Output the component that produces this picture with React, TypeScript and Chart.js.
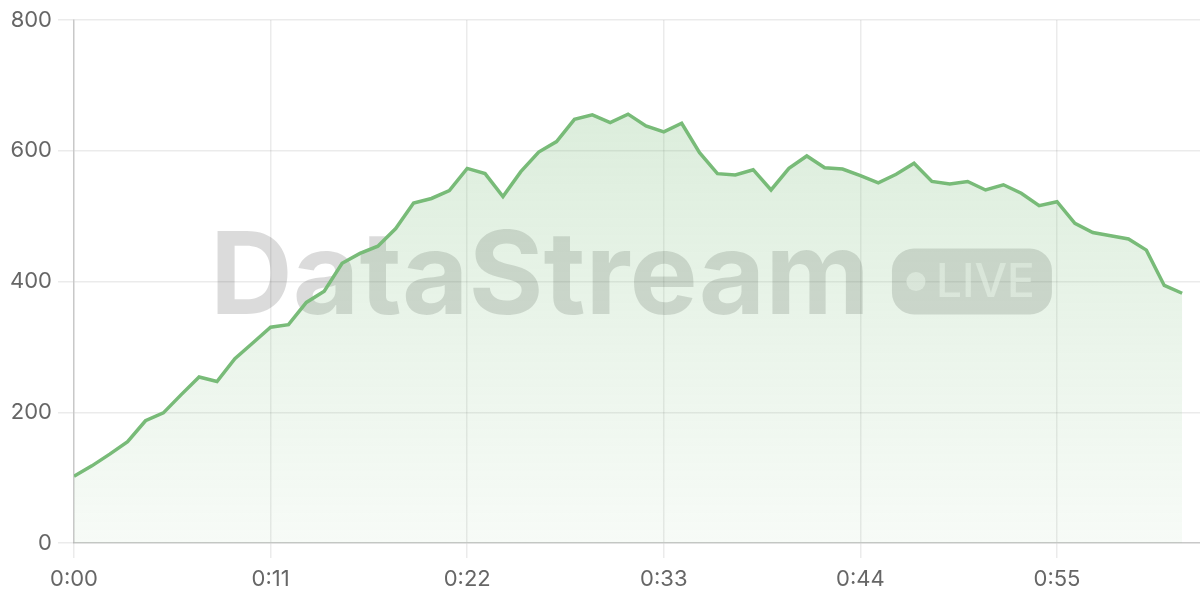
import React, { useEffect, useRef } from "react";
import { Chart, registerables } from "chart.js";

Chart.register(...registerables);

// seconds 0..62
const values: number[] = [
  102, 118, 136, 155, 187, 199, 227, 254, 247, 282, 306, 330, 334, 368, 385, 428,
  443, 454, 481, 520, 527, 539, 573, 565, 530, 568, 598, 614, 648, 655, 643, 656,
  638, 629, 642, 597, 565, 563, 571, 540, 573, 592, 574, 572, 562, 551, 564, 581,
  553, 549, 553, 540, 548, 535, 516, 522, 489, 475, 470, 465, 448, 394, 382,
];
const xTicks: number[] = [0, 11, 22, 33, 44, 55];
const xMax = 63;
const yTicks: number[] = [0, 200, 400, 600, 800];
const watermarkText = "DataStream";
const badgeText = "LIVE";

const fmt = (v: number) => `${Math.floor(v / 60)}:${String(v % 60).padStart(2, "0")}`;

const watermarkPlugin = {
  id: "watermark",
  beforeDatasetsDraw(chart: any) {
    const { ctx, chartArea } = chart;
    const cx = (chartArea.left + chartArea.right) / 2 - 6;
    const cy = (chartArea.top + chartArea.bottom) / 2;
    ctx.save();
    // main text
    ctx.font = "700 100px Inter";
    const w100 = ctx.measureText(watermarkText).width;
    const size = (660 / w100) * 100;
    ctx.font = `700 ${size}px Inter`;
    const tw = ctx.measureText(watermarkText).width;
    const pillW = 160;
    const pillH = 66;
    const gap = 22;
    const total = tw + gap + pillW;
    const x0 = cx - total / 2;
    ctx.fillStyle = "rgba(0,0,0,0.14)";
    ctx.textBaseline = "alphabetic";
    ctx.textAlign = "left";
    ctx.fillText(watermarkText, x0, cy + 32);
    // pill
    const px = x0 + tw + gap;
    const py = cy - pillH / 2;
    ctx.beginPath();
    ctx.roundRect(px, py, pillW, pillH, 22);
    ctx.fill();
    ctx.fillStyle = "rgba(255,255,255,0.55)";
    ctx.beginPath();
    ctx.arc(px + 24, cy, 9.5, 0, Math.PI * 2);
    ctx.fill();
    ctx.font = "500 46px Inter";
    ctx.textBaseline = "middle";
    ctx.fillText(badgeText, px + 44, cy + 2);
    ctx.restore();
  },
};

export default function App() {
  const ref = useRef<HTMLCanvasElement | null>(null);
  useEffect(() => {
    document.body.style.margin = "0";
    const canvas = ref.current!;
    const tickFont = { family: "Inter", size: 22 };
    const chart = new Chart(canvas, {
      type: "line",
      data: {
        datasets: [
          {
            data: values.map((v, i) => ({ x: i, y: v })),
            borderColor: "rgb(120,187,120)",
            borderWidth: 3.5,
            pointRadius: 0,
            tension: 0,
            fill: "origin",
            backgroundColor: (c: any) => {
              const { chart: ch } = c;
              const area = ch.chartArea;
              if (!area) return "rgba(120,187,120,0.15)";
              const g = ch.ctx.createLinearGradient(0, area.top, 0, area.bottom);
              g.addColorStop(0, "rgba(120,187,120,0.3)");
              g.addColorStop(1, "rgba(120,187,120,0.06)");
              return g;
            },
          },
        ],
      },
      options: {
        responsive: false,
        animation: false,
        layout: { padding: { top: 20, right: 0, left: 0, bottom: 0 } },
        plugins: { legend: { display: false }, tooltip: { enabled: false } },
        scales: {
          x: {
            type: "linear",
            min: 0,
            max: xMax,
            afterBuildTicks: (s: any) => {
              s.ticks = xTicks.map((v) => ({ value: v }));
            },
            afterFit: (s: any) => {
              s.height = 57;
            },
            ticks: {
              font: tickFont,
              color: "#666",
              padding: 8,
              maxRotation: 0,
              callback: (v: any) => fmt(Number(v)),
            },
            grid: { color: "rgba(0,0,0,0.08)", tickLength: 15, lineWidth: 1.5 },
            border: { color: "rgba(0,0,0,0.15)", width: 1.5 },
          },
          y: {
            min: 0,
            max: 800,
            afterBuildTicks: (s: any) => {
              s.ticks = yTicks.map((v) => ({ value: v }));
            },
            afterFit: (s: any) => {
              s.width = 74;
            },
            ticks: { font: tickFont, color: "#666", padding: 6 },
            grid: { color: "rgba(0,0,0,0.08)", tickLength: 16, lineWidth: 1.5 },
            border: { color: "rgba(0,0,0,0.15)", width: 1.5 },
          },
        },
      },
      plugins: [watermarkPlugin],
    });
    return () => chart.destroy();
  }, []);
  return (
    <div style={{ width: 1200, height: 600 }}>
      <canvas ref={ref} width={1200} height={600} />
    </div>
  );
}
